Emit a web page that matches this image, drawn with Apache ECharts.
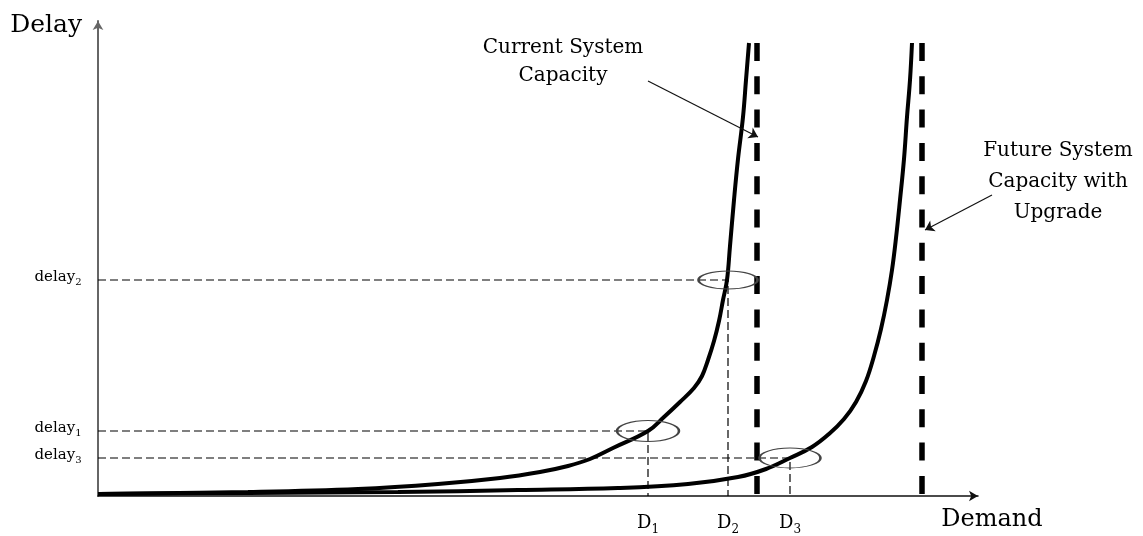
<!DOCTYPE html>
<html><head><meta charset="utf-8">
<script src="https://cdn.jsdelivr.net/npm/echarts@6/dist/echarts.min.js"></script>
<style>html,body{margin:0;padding:0;background:#fff}#c{width:1143px;height:536px}</style>
</head><body><div id="c"></div>
<script>
// Demand (x) vs Delay (y), arbitrary units
const curveCurrent = [[0,2],[150,4],[260,7],[340,12],[402,18],[442,24],[470,30],[492,37],[515,48],[550,65],[566,79],[582,94],[596,108],[604,120],[610,136],[616,155],[621,175],[625,196],[629,216],[632,250],[636,296],[640,337],[645,379],[648,416],[651,453]];
const curveFuture = [[0,2],[150,3],[300,4],[420,6],[520,8],[590,12],[640,19],[668,27],[692,38],[714,49],[731,62],[746,77],[758,94],[768,115],[776,140],[783,167],[789,196],[794,226],[798,258],[802,296],[806,337],[809,379],[812,416],[814,453]];
const capacityCurrent = 659;
const capacityFuture = 824;
const capacityTop = 453;
const pointNames = ['1', '2', '3'];
const pointDemand = [550, 630, 692];
const pointDelay = [65, 216, 38];
const axisNames = ['Demand', 'Delay'];
const noteCurrent = ['Current System', 'Capacity'];
const noteFuture = ['Future System', 'Capacity with', 'Upgrade'];

const FONT = 'DejaVu Serif';
const INK = '#000';
const chart = echarts.init(document.getElementById('c'), null, {renderer: 'canvas'});

const guideSeries = pointNames.map((n, i) => ({
  type: 'line', silent: true, symbol: 'none', z: 2,
  data: [[0, pointDelay[i]], [pointDemand[i], pointDelay[i]], [pointDemand[i], 0]],
  lineStyle: {color: '#000', width: 1.2, type: [8, 4]}
}));
const ellipseSizes = [[62, 21], [59, 18], [61, 20]];
const hidden = {color: 'rgba(0,0,0,0)', opacity: 1};

const option = {
  animation: false,
  backgroundColor: '#fff',
  grid: {left: 98, top: 21, right: 165, bottom: 40},
  xAxis: {
    type: 'value', min: 0, max: 880,
    name: axisNames[0], nameLocation: 'end', nameGap: 14,
    nameTextStyle: {fontFamily: FONT, fontSize: 24, color: INK, align: 'center', verticalAlign: 'top', padding: [12, 0, 0, 0]},
    axisLine: {show: true, symbol: ['none', 'arrow'], symbolSize: [8, 9], lineStyle: {color: '#111', width: 1.5}},
    axisTick: {show: false}, axisLabel: {show: false}, splitLine: {show: false}
  },
  yAxis: {
    type: 'value', min: 0, max: 475,
    name: axisNames[1], nameLocation: 'end', nameGap: -4,
    nameTextStyle: {fontFamily: FONT, fontSize: 25, color: INK, align: 'right', verticalAlign: 'middle', padding: [0, 16, 0, 0]},
    axisLine: {show: true, symbol: ['none', 'arrow'], symbolSize: [8, 9], lineStyle: {color: '#666', width: 2}},
    axisTick: {show: false}, axisLabel: {show: false}, splitLine: {show: false}
  },
  series: [
    ...guideSeries,
    {
      type: 'line', silent: true, symbol: 'none', z: 3,
      data: [[capacityCurrent, capacityTop], [capacityCurrent, 2]],
      lineStyle: {color: '#000', width: 5.5, type: [18, 15.3]}
    },
    {
      type: 'line', silent: true, symbol: 'none', z: 3,
      data: [[capacityFuture, capacityTop], [capacityFuture, 2]],
      lineStyle: {color: '#000', width: 5.5, type: [18, 15.3]}
    },
    {
      type: 'line', silent: true, symbol: 'none', smooth: 0.4, z: 4,
      data: curveCurrent, lineStyle: {color: '#000', width: 4}
    },
    {
      type: 'line', silent: true, symbol: 'none', smooth: 0.4, z: 4,
      data: curveFuture, lineStyle: {color: '#000', width: 4}
    },
    {
      type: 'scatter', silent: true, z: 5,
      data: pointNames.map((n, i) => ({value: [pointDemand[i], pointDelay[i]], symbolSize: ellipseSizes[i]})),
      itemStyle: {color: 'rgba(0,0,0,0)', borderColor: '#444', borderWidth: 1.5, opacity: 1}
    },
    {
      type: 'scatter', silent: true, z: 6, clip: false, symbolSize: 1,
      itemStyle: hidden,
      data: pointNames.map((n, i) => [0, pointDelay[i]]),
      label: {
        show: true, position: 'left', distance: 16, offset: [0, -3],
        formatter: p => '{m|delay}{s|' + pointNames[p.dataIndex] + '}',
        rich: {
          m: {fontFamily: FONT, fontSize: 15, color: INK, lineHeight: 20},
          s: {fontFamily: FONT, fontSize: 10, color: INK, lineHeight: 10, verticalAlign: 'bottom'}
        }
      }
    },
    {
      type: 'scatter', silent: true, z: 6, clip: false, symbolSize: 1,
      itemStyle: hidden,
      data: pointNames.map((n, i) => [pointDemand[i], 0]),
      label: {
        show: true, position: 'bottom', distance: 15,
        formatter: p => '{m|D}{s|' + pointNames[p.dataIndex] + '}',
        rich: {
          m: {fontFamily: FONT, fontSize: 18, color: INK, lineHeight: 24},
          s: {fontFamily: FONT, fontSize: 12, color: INK, lineHeight: 12, verticalAlign: 'bottom'}
        }
      }
    },
    {
      type: 'lines', coordinateSystem: 'cartesian2d', silent: true, clip: false, z: 6,
      symbol: ['none', 'arrow'], symbolSize: 9,
      lineStyle: {color: '#111', width: 1.2, curveness: 0, opacity: 1},
      data: [{coords: [[550, 415], [660, 359]]}, {coords: [[894, 301], [827, 266]]}]
    },
    {
      type: 'scatter', silent: true, z: 6, clip: false, symbolSize: 1,
      itemStyle: hidden,
      data: [
        {value: [465, 434], label: {lineHeight: 28}},
        {value: [960, 314], label: {lineHeight: 31}}
      ],
      label: {
        show: true, position: 'inside', align: 'center', verticalAlign: 'middle',
        fontFamily: FONT, fontSize: 20, color: INK,
        formatter: p => (p.dataIndex === 0 ? noteCurrent : noteFuture).join('\n')
      }
    }
  ]
};
chart.setOption(option);
</script>
</body></html>
